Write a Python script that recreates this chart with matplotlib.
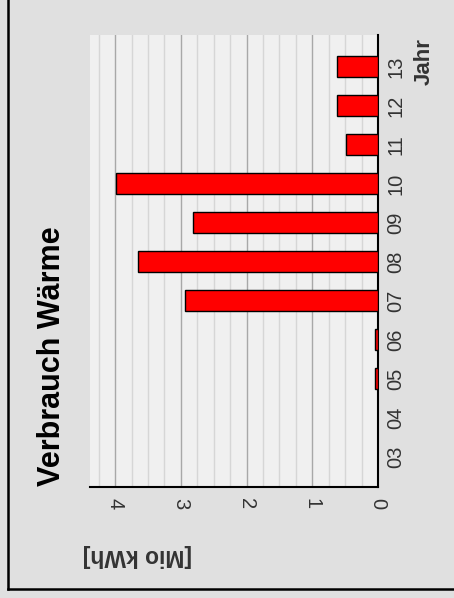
import numpy as np
import matplotlib.pyplot as plt
from matplotlib.lines import Line2D
from matplotlib.ticker import MultipleLocator

plt.rcParams['font.family'] = ['Liberation Sans', 'DejaVu Sans']

# -----------------------
# data
# -----------------------
years = ["03", "04", "05", "06", "07", "08", "09", "10", "11", "12", "13"]
verbrauch = [0.0, 0.0, 0.05, 0.05, 2.93, 3.65, 2.81, 3.99, 0.49, 0.62, 0.62]  # Mio kWh
value_ticks = [0, 1, 2, 3, 4]

# -----------------------
# figure (chart is drawn turned by 90 degrees)
# -----------------------
fig = plt.figure(figsize=(4.54, 5.98), dpi=100, facecolor="#e0e0e0")
ax = fig.add_axes([90 / 454, 1 - 487 / 598, 288 / 454, 452 / 598])
ax.set_facecolor("#f0f0f0")

pos = np.arange(len(years))
ax.barh(pos, verbrauch, height=0.53, color="#ff0000", edgecolor="black",
        linewidth=1.0, zorder=3)

ax.set_xlim(4.383, 0)
ax.set_ylim(-0.78, len(years) - 1 + 0.81)

# grid
ax.xaxis.set_major_locator(MultipleLocator(1))
ax.xaxis.set_minor_locator(MultipleLocator(0.25))
ax.grid(axis="x", which="major", color="#a8a8a8", linewidth=1.0, zorder=1)
ax.grid(axis="x", which="minor", color="#d6d6d6", linewidth=1.0, zorder=0)
ax.set_axisbelow(True)

# spines
for s in ["top", "left"]:
    ax.spines[s].set_visible(False)
for s in ["right", "bottom"]:
    ax.spines[s].set_color("black")
    ax.spines[s].set_linewidth(1.5)

# year axis (right side)
ax.yaxis.tick_right()
ax.set_yticks(pos)
ax.set_yticklabels(years)
ax.tick_params(axis="y", length=0, pad=6, labelsize=14.5, labelcolor="#333333",
               labelrotation=90)
for lab in ax.get_yticklabels():
    lab.set_va("center")

# value axis (bottom)
ax.set_xticks(value_ticks)
ax.set_xticklabels([str(v) for v in value_ticks])
ax.tick_params(axis="x", which="both", length=0, pad=8, labelsize=14.5,
               labelcolor="#333333", labelrotation=270)

# texts
fig.text(52 / 454, 1 - 356 / 598, "Verbrauch Wärme", rotation=90,
         fontsize=22, fontweight="bold", ha="center", va="center")
fig.text(424 / 454, 1 - 62 / 598, "Jahr", rotation=90,
         fontsize=16, fontweight="bold", ha="center", va="center",
         color="#333333")
fig.text(137 / 454, 1 - 556 / 598, "[Mio kWh]", rotation=180,
         fontsize=16.5, fontweight="bold", ha="center", va="center",
         color="#333333")

# frame lines (left and bottom)
fig.add_artist(Line2D([8 / 454, 8 / 454], [1 - 589 / 598, 1.0],
                      transform=fig.transFigure, color="black", linewidth=1.8))
fig.add_artist(Line2D([8 / 454, 1.0], [1 - 589 / 598, 1 - 589 / 598],
                      transform=fig.transFigure, color="black", linewidth=1.8))

fig.savefig("out.png", dpi=100, facecolor=fig.get_facecolor())
